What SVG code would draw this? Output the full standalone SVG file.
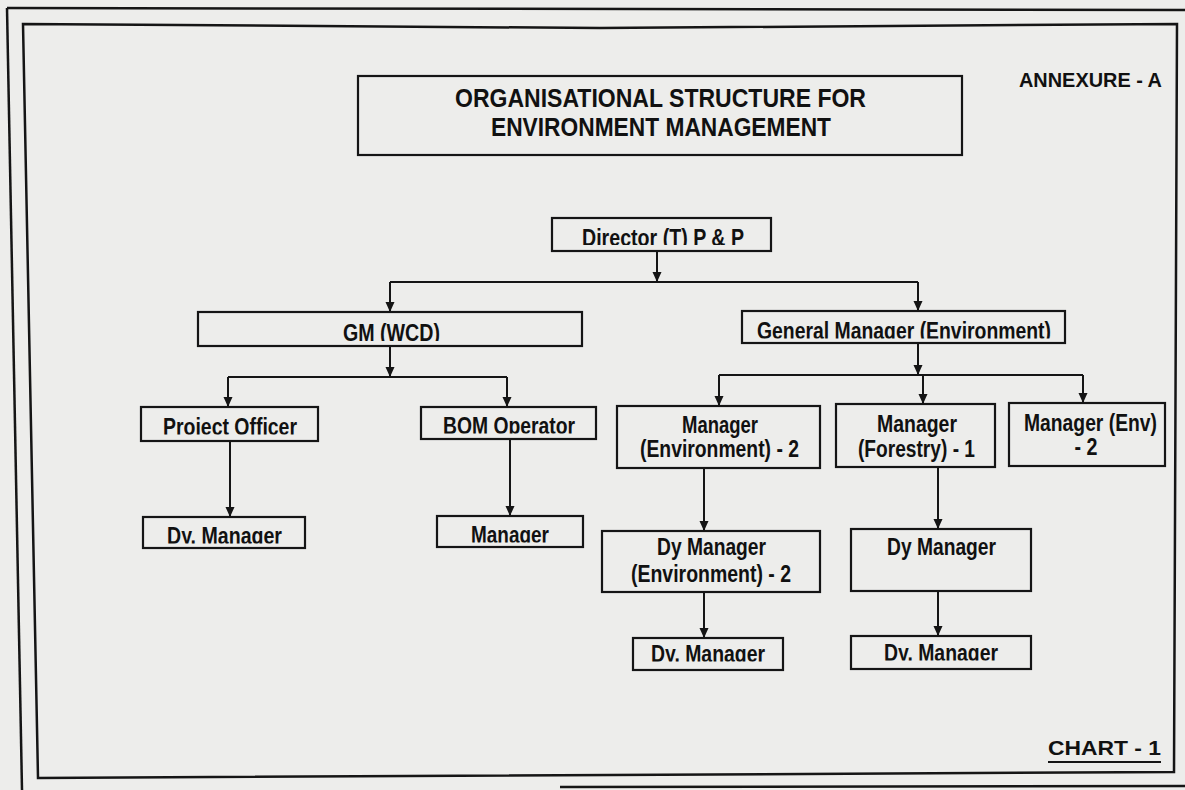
<svg xmlns="http://www.w3.org/2000/svg" width="1185" height="790" viewBox="0 0 1185 790">
<style>
.bg{fill:#ededeb}
.frame{fill:none;stroke:#151515;stroke-width:2.5}
.box{fill:none;stroke:#151515;stroke-width:2.2}
.t{font-family:"Liberation Sans Narrow","Liberation Sans",Arial,sans-serif;font-weight:bold;font-size:23px;fill:#111;text-anchor:middle}
.title{font-size:25px}
.lbl{font-size:21px}
.ln{fill:none;stroke:#151515;stroke-width:2}
</style>
<defs>
<marker id="ah" markerUnits="userSpaceOnUse" markerWidth="10" markerHeight="10" refX="10" refY="4.5" orient="auto" viewBox="0 0 10 9">
<path d="M0,0 L10,4.5 L0,9 Z" fill="#151515"/>
</marker>
<clipPath id="c-dir" clipPathUnits="userSpaceOnUse"><rect x="552" y="218" width="219" height="27"/></clipPath>
<clipPath id="c-wcd" clipPathUnits="userSpaceOnUse"><rect x="198" y="312" width="384" height="29"/></clipPath>
<clipPath id="c-gme" clipPathUnits="userSpaceOnUse"><rect x="742" y="311" width="323" height="27.5"/></clipPath>
<clipPath id="c-po" clipPathUnits="userSpaceOnUse"><rect x="141" y="407" width="177" height="27.5"/></clipPath>
<clipPath id="c-bom" clipPathUnits="userSpaceOnUse"><rect x="421" y="407" width="175" height="26.5"/></clipPath>
<clipPath id="c-dm1" clipPathUnits="userSpaceOnUse"><rect x="143" y="517" width="162" height="26.5"/></clipPath>
<clipPath id="c-m1" clipPathUnits="userSpaceOnUse"><rect x="437" y="516" width="146" height="26.5"/></clipPath>
<clipPath id="c-dm2" clipPathUnits="userSpaceOnUse"><rect x="633" y="638" width="150" height="23.5"/></clipPath>
<clipPath id="c-dm3" clipPathUnits="userSpaceOnUse"><rect x="851" y="636" width="180" height="24.5"/></clipPath>
</defs>
<rect class="bg" x="0" y="0" width="1185" height="790"/>
<g id="frame">
<path class="frame" d="M7,8 L1185,10"/>
<path class="frame" d="M7,8 L22,790"/>
<path class="frame" d="M560,787 L1185,786"/>
<path class="frame" d="M23,24 L600,28 L1177,24 L1174,772 L38,778 Z"/>
</g>
<g id="heading">
<rect class="box" x="358" y="76" width="604" height="79"/>
<text class="t title" x="660.5" y="107" textLength="411" lengthAdjust="spacingAndGlyphs">ORGANISATIONAL STRUCTURE FOR</text>
<text class="t title" x="661" y="136" textLength="340" lengthAdjust="spacingAndGlyphs">ENVIRONMENT MANAGEMENT</text>
</g>
<g id="annexure">
<text class="t lbl" x="1090.5" y="87" textLength="143" lengthAdjust="spacingAndGlyphs">ANNEXURE - A</text>
</g>
<g id="chart-label">
<text class="t lbl" x="1104.5" y="755" textLength="113" lengthAdjust="spacingAndGlyphs">CHART - 1</text>
<line x1="1048" y1="762" x2="1161" y2="762" stroke="#151515" stroke-width="2"/>
</g>
<g id="connectors">
<line class="ln" x1="657" y1="251" x2="657" y2="282" marker-end="url(#ah)"/>
<line class="ln" x1="390" y1="282" x2="918" y2="282"/>
<line class="ln" x1="390" y1="282" x2="390" y2="312" marker-end="url(#ah)"/>
<line class="ln" x1="918" y1="282" x2="918" y2="311" marker-end="url(#ah)"/>
<line class="ln" x1="390" y1="346" x2="390" y2="377" marker-end="url(#ah)"/>
<line class="ln" x1="228" y1="377" x2="507" y2="377"/>
<line class="ln" x1="228" y1="377" x2="228" y2="407" marker-end="url(#ah)"/>
<line class="ln" x1="507" y1="377" x2="507" y2="407" marker-end="url(#ah)"/>
<line class="ln" x1="230" y1="441" x2="230" y2="517" marker-end="url(#ah)"/>
<line class="ln" x1="510" y1="439" x2="510" y2="516" marker-end="url(#ah)"/>
<line class="ln" x1="918" y1="343" x2="918" y2="375" marker-end="url(#ah)"/>
<line class="ln" x1="719" y1="375" x2="1083" y2="375"/>
<line class="ln" x1="719" y1="375" x2="719" y2="406" marker-end="url(#ah)"/>
<line class="ln" x1="923" y1="375" x2="923" y2="404" marker-end="url(#ah)"/>
<line class="ln" x1="1083" y1="375" x2="1083" y2="403" marker-end="url(#ah)"/>
<line class="ln" x1="704" y1="468" x2="704" y2="531" marker-end="url(#ah)"/>
<line class="ln" x1="938" y1="467" x2="938" y2="529" marker-end="url(#ah)"/>
<line class="ln" x1="704" y1="592" x2="704" y2="638" marker-end="url(#ah)"/>
<line class="ln" x1="938" y1="591" x2="938" y2="636" marker-end="url(#ah)"/>
</g>
<g id="director">
<rect class="box" x="552" y="218" width="219" height="33"/>
<text class="t" x="663" y="245.5" textLength="162" lengthAdjust="spacingAndGlyphs" clip-path="url(#c-dir)">Director (T) P &amp; P</text>
</g>
<g id="gm-wcd">
<rect class="box" x="198" y="312" width="384" height="34"/>
<text class="t" x="391.5" y="340.5" textLength="97" lengthAdjust="spacingAndGlyphs" clip-path="url(#c-wcd)">GM (WCD)</text>
</g>
<g id="gm-env">
<rect class="box" x="742" y="311" width="323" height="32"/>
<text class="t" x="904" y="338.5" textLength="294" lengthAdjust="spacingAndGlyphs" clip-path="url(#c-gme)">General Manager (Environment)</text>
</g>
<g id="project-officer">
<rect class="box" x="141" y="407" width="177" height="34"/>
<text class="t" x="230" y="434.5" textLength="134" lengthAdjust="spacingAndGlyphs" clip-path="url(#c-po)">Project Officer</text>
</g>
<g id="bom-operator">
<rect class="box" x="421" y="407" width="175" height="32"/>
<text class="t" x="509" y="433.5" textLength="132" lengthAdjust="spacingAndGlyphs" clip-path="url(#c-bom)">BOM Operator</text>
</g>
<g id="dy-manager-po">
<rect class="box" x="143" y="517" width="162" height="31"/>
<text class="t" x="224.5" y="543.5" textLength="115" lengthAdjust="spacingAndGlyphs" clip-path="url(#c-dm1)">Dy. Manager</text>
</g>
<g id="manager-bom">
<rect class="box" x="437" y="516" width="146" height="31"/>
<text class="t" x="510" y="542.5" textLength="78" lengthAdjust="spacingAndGlyphs" clip-path="url(#c-m1)">Manager</text>
</g>
<g id="manager-env-2">
<rect class="box" x="617" y="406" width="203" height="62"/>
<text class="t" x="720" y="433" textLength="76" lengthAdjust="spacingAndGlyphs">Manager</text>
<text class="t" x="719.5" y="457" textLength="159" lengthAdjust="spacingAndGlyphs">(Environment) - 2</text>
</g>
<g id="manager-forestry-1">
<rect class="box" x="836" y="404" width="159" height="63"/>
<text class="t" x="917" y="432" textLength="80" lengthAdjust="spacingAndGlyphs">Manager</text>
<text class="t" x="916.5" y="457" textLength="117" lengthAdjust="spacingAndGlyphs">(Forestry) - 1</text>
</g>
<g id="manager-env-b">
<rect class="box" x="1009" y="403" width="156" height="63"/>
<text class="t" x="1090.5" y="431" textLength="133" lengthAdjust="spacingAndGlyphs">Manager (Env)</text>
<text class="t" x="1086" y="455" textLength="23" lengthAdjust="spacingAndGlyphs">- 2</text>
</g>
<g id="dy-manager-env-2">
<rect class="box" x="602" y="531" width="218" height="61"/>
<text class="t" x="711.5" y="555" textLength="109" lengthAdjust="spacingAndGlyphs">Dy Manager</text>
<text class="t" x="711" y="582" textLength="160" lengthAdjust="spacingAndGlyphs">(Environment) - 2</text>
</g>
<g id="dy-manager-forestry">
<rect class="box" x="851" y="529" width="180" height="62"/>
<text class="t" x="941.5" y="555" textLength="109" lengthAdjust="spacingAndGlyphs">Dy Manager</text>
</g>
<g id="dy-manager-env-leaf">
<rect class="box" x="633" y="638" width="150" height="32"/>
<text class="t" x="708" y="661.5" textLength="114" lengthAdjust="spacingAndGlyphs" clip-path="url(#c-dm2)">Dy. Manager</text>
</g>
<g id="dy-manager-forestry-leaf">
<rect class="box" x="851" y="636" width="180" height="33"/>
<text class="t" x="941" y="660.5" textLength="114" lengthAdjust="spacingAndGlyphs" clip-path="url(#c-dm3)">Dy. Manager</text>
</g>
</svg>
